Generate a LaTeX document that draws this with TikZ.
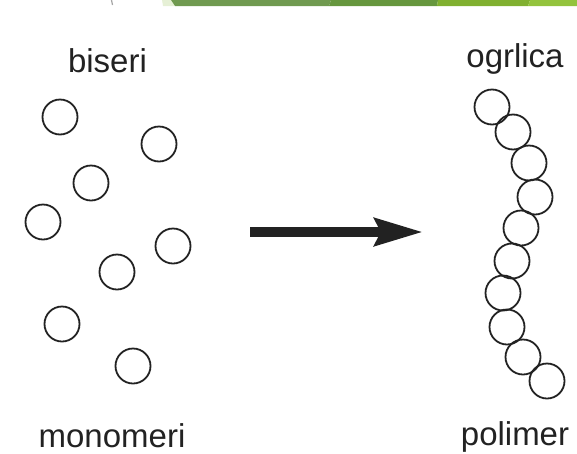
\documentclass[tikz,border=0pt]{standalone}
\usepackage{fontspec}
\setmainfont{Liberation Sans}
\usetikzlibrary{arrows.meta}
\definecolor{ink}{HTML}{222222}
\definecolor{barpale}{HTML}{E6F0D6}
\definecolor{barA}{HTML}{709A50}
\definecolor{barB}{HTML}{66973E}
\definecolor{barC}{HTML}{80B030}
\definecolor{barD}{HTML}{93C33D}
\tikzset{
  bead/.style={circle, draw=ink, line width=1.8pt, minimum size=35pt, inner sep=0pt},
  lbl/.style={anchor=base, inner sep=0pt, text=ink, font=\fontsize{33}{40}\selectfont},
  bigarrow/.style={draw=ink, line width=10pt, -{Stealth[length=48pt, width=27pt, inset=6pt, fill=ink]}}
}
\begin{document}
\begin{tikzpicture}[x=1pt, y=-1pt]
\useasboundingbox (0,0) rectangle (577,453);
% top bar
\fill[barpale] (162,0) -- (172,0) -- (175,6) -- (163,6) -- cycle;
\fill[barA] (171,0) -- (331,0) -- (329,6) -- (175,6) -- cycle;
\fill[barB] (331,0) -- (438,0) -- (437,6) -- (329,6) -- cycle;
\fill[barC] (438,0) -- (530,0) -- (528,6) -- (437,6) -- cycle;
\fill[barD] (530,0) -- (577,0) -- (577,6) -- (528,6) -- cycle;
\draw[gray!70, line width=1.2pt] (111.5,0) -- (112.5,5);
% labels
\node[lbl] (tbiseri) at (107.5,72) {biseri};
\node[lbl] (tmono) at (112,447) {monomeri};
\node[lbl] (togr) at (515,67) {ogrlica};
\node[lbl] (tpol) at (515,445) {polimer};
% monomers
\node[bead] (m1) at (60,117) {};
\node[bead] (m2) at (159,144) {};
\node[bead] (m3) at (91,183) {};
\node[bead] (m4) at (43,222) {};
\node[bead] (m5) at (173,246) {};
\node[bead] (m6) at (117,272) {};
\node[bead] (m7) at (62,324) {};
\node[bead] (m8) at (133,366) {};
% polymer chain
\node[bead] (p1) at (492,107) {};
\node[bead] (p2) at (513,132) {};
\node[bead] (p3) at (529,163) {};
\node[bead] (p4) at (535,197) {};
\node[bead] (p5) at (521,228) {};
\node[bead] (p6) at (512,261) {};
\node[bead] (p7) at (503,293) {};
\node[bead] (p8) at (507,327) {};
\node[bead] (p9) at (523,357) {};
\node[bead] (p10) at (547,381) {};
% arrow
\coordinate (as) at (250,232);
\coordinate (ae) at (423,232);
\draw[bigarrow] (as) -- (ae);
\end{tikzpicture}
\end{document}
